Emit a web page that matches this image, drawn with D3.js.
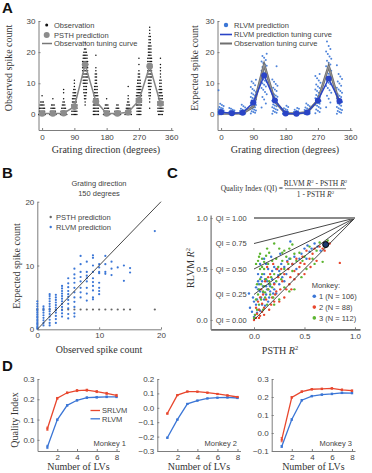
<!DOCTYPE html>
<html><head><meta charset="utf-8">
<script src="https://cdn.jsdelivr.net/npm/d3@7"></script>
<style>
body{margin:0;background:#fff;}
svg{display:block;}
</style></head><body>
<svg id="fig" width="372" height="473"></svg>
<script>
// ---------------- DATA ----------------
const directions = [0,30,60,90,120,150,180,210,240,270,300,330];
const dirTicks = [0,90,180,270,360];
const countTicksA = [0,10,20,30];
const psthMean = [0.3,0.3,0.4,2.5,16.0,4.2,0.3,0.3,0.7,4.5,15.5,3.5];
const obsTuning = [0.3,0.3,0.4,2.5,16.0,4.2,0.3,0.3,0.7,4.5,15.5,3.5];
const rlvmMean = [0.7,0.4,0.5,3.8,12.5,4.5,0.3,0.2,0.6,4.5,11.5,4.3];
// observed trials: [spike count, number of trials]
const observedTrials = [
 [[0,6],[1,5],[2,5],[3,4],[4,3],[6,1]],
 [[0,6],[1,5],[2,4],[3,3],[5,1]],
 [[0,6],[1,5],[2,4],[3,3],[4,2],[5,1],[7,1],[8,1]],
 [[0,5],[1,5],[2,5],[3,5],[4,4],[5,4],[6,3],[7,3],[8,2],[9,1],[10,1],[11,1]],
 [[3,1],[4,1],[5,2],[6,2],[7,3],[8,3],[9,3],[10,4],[11,4],[12,5],[13,5],[14,5],[15,5],[16,5],[17,5],[18,4],[19,4],[20,3],[21,2],[23,1]],
 [[0,5],[1,5],[2,5],[3,5],[4,5],[5,4],[6,4],[7,3],[8,3],[9,3],[10,2],[11,2],[12,2],[13,2],[14,1],[15,1],[19,1]],
 [[0,6],[1,5],[2,4],[3,3],[5,1]],
 [[0,6],[1,5],[2,3],[3,2]],
 [[0,6],[1,5],[2,4],[3,3],[4,2],[5,1],[6,1],[9,1]],
 [[0,4],[1,4],[2,4],[3,5],[4,5],[5,5],[6,5],[7,4],[8,4],[9,4],[10,3],[11,3],[12,2],[13,2],[14,1],[16,1],[18,1]],
 [[2,1],[4,1],[5,1],[6,2],[7,2],[8,2],[9,3],[10,3],[11,3],[12,4],[13,4],[14,4],[15,4],[16,4],[17,4],[18,4],[19,3],[20,3],[21,3],[22,3],[23,2],[24,2],[25,2],[26,1],[27,1],[28,1]],
 [[0,4],[1,5],[2,5],[3,5],[4,5],[5,4],[6,4],[7,3],[8,3],[9,2],[10,2],[11,2],[12,1],[13,1],[14,1],[15,1],[16,1],[18,1]]
];
// RLVM predicted expected counts per trial
const rlvmTrials = [
 [0.1,0.2,0.3,0.3,0.4,0.5,0.5,0.6,0.6,0.7,0.7,0.8,0.8,0.9,1.0,1.0,1.1,1.2,1.3,1.4,1.5,1.7,1.9,2.1,2.4,2.7,3.0,3.4,7.8],
 [0.1,0.1,0.2,0.2,0.3,0.3,0.3,0.4,0.4,0.5,0.5,0.6,0.6,0.7,0.8,0.9,1.0,1.1,1.3,1.5,1.8,2.1],
 [0.1,0.2,0.2,0.3,0.3,0.4,0.4,0.5,0.5,0.6,0.7,0.8,0.9,1.0,1.1,1.3,1.5,1.8,2.2,2.6,3.1],
 [0.3,0.5,0.8,1.0,1.3,1.5,1.8,2.0,2.3,2.5,2.8,3.0,3.2,3.5,3.7,4.0,4.2,4.5,4.8,5.0,5.3,5.6,6.0,6.4,6.8,7.2,7.7,8.2,8.8,9.4,10.0,10.6,11.1],
 [2.2,3.5,4.8,5.6,6.5,7.2,7.9,8.5,9.0,9.5,10.0,10.4,10.8,11.2,11.6,12.0,12.3,12.6,13.0,13.3,13.6,14.0,14.4,14.8,15.2,15.6,16.0,16.5,17.0,17.5,18.2,18.8,19.5],
 [0.2,0.5,0.8,1.1,1.4,1.7,2.0,2.3,2.6,2.9,3.2,3.5,3.8,4.1,4.4,4.7,5.0,5.3,5.7,6.1,6.5,7.0,7.5,8.0,8.6,9.2,9.8,10.5,11.2,15.5],
 [0.1,0.1,0.2,0.2,0.3,0.3,0.4,0.4,0.5,0.6,0.7,0.8,0.9,1.0,1.2,1.4,1.7,2.0,2.4,2.8],
 [0.05,0.1,0.1,0.15,0.2,0.2,0.25,0.3,0.3,0.4,0.45,0.5,0.6,0.7,0.8,1.0,1.2,1.5,1.8,2.1],
 [0.1,0.2,0.2,0.3,0.3,0.4,0.5,0.5,0.6,0.7,0.8,0.9,1.0,1.2,1.4,1.6,1.9,2.2,2.6,3.0,3.5],
 [0.4,0.8,1.2,1.6,2.0,2.4,2.8,3.1,3.4,3.7,4.0,4.3,4.6,4.9,5.2,5.5,5.8,6.2,6.6,7.0,7.5,8.0,8.5,9.0,9.6,10.2,10.9,11.6,12.3,13.0],
 [2.3,3.8,5.0,6.0,7.0,7.8,8.5,9.1,9.7,10.2,10.7,11.1,11.5,11.9,12.3,12.7,13.1,13.5,14.0,14.5,15.0,15.5,16.0,16.6,17.2,17.9,18.6,19.4,20.2,21.0,22.0,23.4],
 [0.2,0.5,0.8,1.1,1.4,1.7,2.0,2.4,2.8,3.2,3.6,4.0,4.4,4.8,5.2,5.6,6.0,6.5,7.0,7.5,8.0,8.6,9.2,9.9,10.6,11.4,12.2,13.0,15.8]
];
// Panel B (150 degrees)
const countTicksB = [0,10,20];
const psthObsX = [0,1,2,3,4,5,6,7,8,9,10,11,12,13,14,15,19];
const psthPred150 = 3.1;
const rlvm150 = [
 [0,[0.1,0.3,0.5,0.8,1.0,1.3,1.5,1.8,2.0,2.3,2.6,2.9,3.2,3.6,4.0,4.4]],
 [1,[0.6,1.0,1.4,1.8,2.2,2.6,3.0,3.3,3.6]],
 [2,[0.6,1.0,1.5,2.0,2.4,2.8,3.2,3.6,4.0,4.4,4.8,5.2,5.5]],
 [3,[1.0,1.6,2.1,2.6,3.0,3.4,3.8,4.2,4.6,5.0,5.4]],
 [4,[2.0,2.5,3.0,3.5,4.0,4.4,4.8,5.2,5.6,6.0,6.4,6.8]],
 [5,[1.7,2.4,3.3,4.0,4.6,5.1,5.5,6.0,6.6,7.2,8.0]],
 [6,[2.0,2.5,3.5,4.3,5.0,5.8,6.5,7.3,8.0,8.6,9.5]],
 [7,[5.0,5.8,6.5,7.5,8.2,9.0,10.2,11.5]],
 [8,[4.5,5.6,6.5,7.5,8.0,8.4,9.0,10.6]],
 [9,[4.7,5.0,6.1,6.8,7.4,8.0,9.0,10.0,11.2,11.6]],
 [10,[5.5,6.0,6.5,7.3,8.8,9.0,9.7,10.2]],
 [11,[8.7,9.0,10.2,11.5]],
 [12,[8.5,9.5,10.6]],
 [13,[9.7]],
 [14,[7.6,10.0]],
 [15,[8.9,9.6]],
 [19,[15.4]]
];
// Panel C: [PSTH R2, RLVM R2]
const qiLevels = [0,0.25,0.5,0.75,1.0];
const r2Ticks = [0,0.5,1.0];
const monkey1 = [[-0.05,0.26],[-0.04,0.12],[-0.02,0.08],[0.0,0.03],[0.01,0.05],[0.02,0.15],[0.03,0.2],[0.04,0.3],[0.05,0.35],[0.06,0.28],[0.07,0.42],[0.08,0.38],[0.1,0.45],[0.12,0.33],[0.13,0.3],[0.14,0.5],[0.15,0.35],[0.18,0.4],[0.2,0.36],[0.22,0.5],[0.25,0.48],[0.27,0.55],[0.3,0.52],[0.33,0.58],[0.35,0.6],[0.36,0.77],[0.4,0.62],[0.45,0.6],[0.5,0.7],[0.53,0.73],[0.55,0.67],[0.6,0.75],[0.63,0.72],[0.66,0.68],[0.05,0.1],[0.08,0.15],[0.1,0.2],[0.12,0.25],[0.15,0.22],[0.16,0.28],[0.2,0.3],[0.22,0.26],[0.25,0.35],[0.28,0.42],[0.3,0.38],[0.02,0.32],[0.04,0.45],[0.06,0.55],[0.1,0.6],[0.12,0.55],[0.17,0.62],[0.2,0.52],[0.24,0.44],[0.26,0.65],[0.32,0.45],[0.38,0.55],[0.42,0.5],[0.47,0.65],[0.52,0.6],[0.57,0.7],[0.07,0.22],[0.09,0.33],[0.11,0.4],[0.14,0.18],[0.18,0.48],[0.03,0.07],[0.06,0.09],[0.0,0.18],[-0.01,0.22],[0.09,0.27],[0.13,0.38],[0.16,0.33],[0.11,0.14],[0.19,0.26],[0.04,0.38]];
const monkey2 = [[0.0,0.0],[0.02,0.02],[0.03,0.06],[0.05,0.1],[0.06,0.04],[0.08,0.16],[0.1,0.12],[0.12,0.2],[0.14,0.3],[0.15,0.1],[0.18,0.22],[0.2,0.35],[0.22,0.28],[0.24,0.42],[0.25,0.18],[0.28,0.38],[0.3,0.45],[0.32,0.3],[0.34,0.5],[0.36,0.42],[0.38,0.55],[0.4,0.48],[0.42,0.6],[0.45,0.52],[0.48,0.62],[0.5,0.55],[0.52,0.68],[0.55,0.6],[0.58,0.65],[0.6,0.7],[0.62,0.58],[0.65,0.72],[0.68,0.7],[0.72,0.76],[0.75,0.75],[0.85,0.56],[0.05,0.02],[0.07,0.3],[0.09,0.25],[0.11,0.38],[0.13,0.52],[0.16,0.45],[0.19,0.55],[0.21,0.25],[0.26,0.3],[0.3,0.22],[0.35,0.35],[0.4,0.4],[0.44,0.45],[0.02,0.12],[0.04,0.18],[0.06,0.22],[0.1,0.05],[0.17,0.15],[0.23,0.5],[0.27,0.5],[0.33,0.57],[0.5,0.45],[0.7,0.68],[0.08,0.08],[0.14,0.42],[0.2,0.18],[0.37,0.3],[0.46,0.56],[0.56,0.52]];
const monkey3 = [[0.04,0.58],[0.05,0.62],[0.06,0.65],[0.08,0.6],[0.1,0.57],[0.12,0.63],[0.13,0.7],[0.15,0.66],[0.2,0.75],[0.25,0.7],[0.28,0.66],[0.3,0.68],[0.35,0.7],[0.38,0.74],[0.02,0.55],[0.0,0.02],[0.01,0.05],[0.03,0.1],[0.02,0.2],[0.04,0.25],[0.05,0.3],[0.06,0.4],[0.07,0.35],[0.08,0.45],[0.09,0.28],[0.1,0.33],[0.11,0.22],[0.12,0.4],[0.13,0.15],[0.14,0.3],[0.15,0.38],[0.16,0.25],[0.17,0.42],[0.18,0.32],[0.2,0.45],[0.22,0.38],[0.24,0.52],[0.26,0.45],[0.28,0.58],[0.3,0.5],[0.32,0.62],[0.34,0.55],[0.36,0.6],[0.38,0.48],[0.4,0.65],[0.42,0.58],[0.45,0.66],[0.48,0.58],[0.5,0.62],[0.52,0.5],[0.55,0.72],[0.58,0.6],[0.6,0.55],[0.62,0.68],[0.65,0.76],[0.68,0.57],[0.7,0.72],[0.73,0.78],[0.25,0.2],[0.3,0.32],[0.2,0.15],[0.08,0.52],[0.1,0.5],[0.14,0.55],[0.05,0.15],[0.07,0.2],[0.09,0.1],[0.18,0.58],[0.22,0.6],[0.4,0.3],[0.35,0.28],[0.47,0.42],[0.03,0.35],[0.11,0.27],[0.16,0.35],[0.19,0.22],[0.06,0.5],[0.27,0.4]];
const highlighted = [0.71,0.74];
const monkeyLabels = ["1 (N = 106)","2 (N = 88)","3 (N = 112)"];
// Panel D
const lvCounts = [1,2,3,4,5,6,7,8];
const lvTicks = [2,4,6,8];
const d1Srlvm = [0.055,0.205,0.232,0.243,0.245,0.238,0.229,0.219];
const d1Rlvm  = [-0.035,0.099,0.170,0.195,0.208,0.210,0.212,0.212];
const d2Srlvm = [-0.040,0.088,0.113,0.112,0.105,0.096,0.086,0.075];
const d2Rlvm  = [-0.208,-0.082,0.027,0.050,0.065,0.070,0.072,0.068];
const d3Srlvm = [-0.037,0.198,0.230,0.243,0.245,0.248,0.240,0.235];
const d3Rlvm  = [-0.075,0.075,0.182,0.205,0.213,0.217,0.223,0.222];
const d1SrlvmErr = [0.008,0.004,0.004,0.005,0.005,0.005,0.005,0.005];
const d1RlvmErr  = [0.008,0.004,0.004,0.004,0.004,0.004,0.004,0.004];
const d2SrlvmErr = [0.004,0.003,0.003,0.003,0.003,0.003,0.003,0.003];
const d2RlvmErr  = [0.004,0.003,0.003,0.003,0.003,0.003,0.003,0.003];
const d3SrlvmErr = [0.012,0.004,0.004,0.004,0.004,0.004,0.004,0.004];
const d3RlvmErr  = [0.005,0.004,0.004,0.004,0.004,0.004,0.004,0.004];
const d1Ticks = [0.0,0.1,0.2,0.3];
const d2Ticks = [-0.3,-0.2,-0.1,0.0,0.1,0.2];
const d3Ticks = [-0.1,0.0,0.1,0.2,0.3];

// ---------------- DRAWING ----------------
const svg = d3.select('#fig');
const SANS = '"Liberation Sans", Arial, sans-serif';
const SERIF = '"Liberation Serif", "Times New Roman", serif';
const AXC = '#7d7d7d', TXT = '#444';
const BLUE = '#3b76d6', DBLUE = '#2a44c6', RED = '#e8472e', GREEN = '#5db531', GRAY = '#7a7a7a';

function axis(gen, tx, ty, fs){
  const g = svg.append('g').attr('transform',`translate(${tx},${ty})`).call(gen);
  g.attr('font-family', SANS).attr('font-size', fs||8);
  g.select('.domain').attr('stroke', AXC).attr('stroke-width', 1);
  g.selectAll('.tick line').attr('stroke', AXC);
  g.selectAll('.tick text').attr('fill', TXT);
  return g;
}
function text(x,y,t,opt){
  opt = opt||{};
  return svg.append('text').attr('x',x).attr('y',y).text(t)
    .attr('font-family', opt.serif?SERIF:SANS).attr('font-size', opt.fs||7.5)
    .attr('fill', opt.fill||TXT).attr('text-anchor', opt.anchor||'start')
    .attr('font-weight', opt.bold?'bold':'normal');
}
function vlabel(x,y,t,fs){
  return svg.append('text').attr('transform',`translate(${x},${y}) rotate(-90)`)
    .attr('text-anchor','middle').attr('dy','0.35em').attr('font-family',SERIF)
    .attr('font-size',fs||10).attr('fill','#333').text(t);
}

// Panel letters
text(2,13,'A',{fs:15,bold:true,fill:'#111'});
text(2,178,'B',{fs:15,bold:true,fill:'#111'});
text(167,178,'C',{fs:15,bold:true,fill:'#111'});
text(2,371,'D',{fs:15,bold:true,fill:'#111'});

// ---- Panel A left ----
const xAL = d3.scaleLinear().domain([-10,365]).range([38.5,173]);
const yA = d3.scaleLinear().domain([-5,30]).range([130,21]);
axis(d3.axisBottom(xAL).tickValues(dirTicks).tickSize(-2).tickSizeOuter(0).tickPadding(4), 0, 130);
axis(d3.axisLeft(yA).tickValues(countTicksA).tickSize(-2).tickSizeOuter(0).tickPadding(3), 38.5, 0);
const obsG = svg.append('g');
directions.forEach((dir,di)=>{
  observedTrials[di].forEach(([v,n])=>{
    for(let k=0;k<n;k++){
      obsG.append('circle').attr('cx', xAL(dir) + (k-(n-1)/2)*1.25).attr('cy', yA(v)).attr('r',0.75).attr('fill','#111');
    }
  });
});
const lineAL = d3.line().x((d,i)=>xAL(directions[i])).y(d=>yA(d));
svg.append('path').attr('d', lineAL(psthMean)).attr('fill','none').attr('stroke','#858585').attr('stroke-width',1.5);
svg.selectAll('.psthpt').data(psthMean).join('circle').attr('cx',(d,i)=>xAL(directions[i])).attr('cy',d=>yA(d)).attr('r',3.3).attr('fill','#8c8c8c');
// legend
svg.append('circle').attr('cx',46.7).attr('cy',25).attr('r',1.5).attr('fill','#111');
text(54,27.7,'Observation');
svg.append('circle').attr('cx',46.7).attr('cy',35).attr('r',3).attr('fill','#8c8c8c');
text(54,37.7,'PSTH prediction');
svg.append('line').attr('x1',42).attr('x2',52).attr('y1',43.5).attr('y2',43.5).attr('stroke','#777').attr('stroke-width',1.5);
text(54,46.2,'Observation tuning curve');
vlabel(8.5,68,'Observed spike count');
text(106,152.5,'Grating direction (degrees)',{serif:true,fs:10,anchor:'middle',fill:'#333'});

// ---- Panel A right ----
const xAR = d3.scaleLinear().domain([-10,365]).range([217.5,352]);
axis(d3.axisBottom(xAR).tickValues(dirTicks).tickSize(-2).tickSizeOuter(0).tickPadding(4), 0, 130);
axis(d3.axisLeft(yA).tickValues(countTicksA).tickSize(-2).tickSizeOuter(0).tickPadding(3), 217.5, 0);
const rG = svg.append('g');
directions.forEach((dir,di)=>{
  rlvmTrials[di].forEach((v,i)=>{
    const off = (((i*5)%7)-3)*0.85;
    rG.append('circle').attr('cx', xAR(dir)+off).attr('cy', yA(v)).attr('r',1.0).attr('fill',BLUE).attr('opacity',0.9);
  });
});
const lineAR = d3.line().x((d,i)=>xAR(directions[i])).y(d=>yA(d));
svg.append('path').attr('d', lineAR(obsTuning)).attr('fill','none').attr('stroke','#6f6f6f').attr('stroke-width',2.6);
svg.append('path').attr('d', lineAR(obsTuning)).attr('fill','none').attr('stroke','#a0a0a0').attr('stroke-width',0.8);
svg.append('path').attr('d', lineAR(rlvmMean)).attr('fill','none').attr('stroke',DBLUE).attr('stroke-width',1.5);
svg.selectAll('.rlvmpt').data(rlvmMean).join('circle').attr('cx',(d,i)=>xAR(directions[i])).attr('cy',d=>yA(d)).attr('r',3).attr('fill',DBLUE);
svg.append('circle').attr('cx',226).attr('cy',25).attr('r',2.2).attr('fill',BLUE);
text(234,27.7,'RLVM prediction');
svg.append('line').attr('x1',220).attr('x2',232).attr('y1',34.5).attr('y2',34.5).attr('stroke',DBLUE).attr('stroke-width',1.6);
text(234,37.2,'RLVM prediction tuning curve');
svg.append('line').attr('x1',220).attr('x2',232).attr('y1',43.5).attr('y2',43.5).attr('stroke','#6f6f6f').attr('stroke-width',2);
text(234,46.2,'Observation tuning curve');
vlabel(194.5,68,'Expected spike count');
text(285,152.5,'Grating direction (degrees)',{serif:true,fs:10,anchor:'middle',fill:'#333'});

// ---- Panel B ----
const xB = d3.scaleLinear().domain([0,20]).range([37.3,161]);
const yB = d3.scaleLinear().domain([0,20]).range([329.3,201.7]);
axis(d3.axisBottom(xB).tickValues(countTicksB).tickSize(-2).tickSizeOuter(0).tickPadding(3.5), 0, 329.3);
axis(d3.axisLeft(yB).tickValues(countTicksB).tickSize(-2).tickSizeOuter(0).tickPadding(3), 37.3, 0);
svg.selectAll('.bg').data(psthObsX).join('circle').attr('cx',d=>xB(d)).attr('cy',yB(psthPred150)).attr('r',1.1).attr('fill','#666');
rlvm150.forEach(([x,ys])=>{
  ys.forEach(y=>svg.append('circle').attr('cx',xB(x)).attr('cy',yB(y)).attr('r',1.1).attr('fill',BLUE));
});
svg.append('line').attr('x1',xB(0)).attr('y1',yB(0)).attr('x2',xB(20)).attr('y2',yB(20)).attr('stroke','#333').attr('stroke-width',0.9);
text(99,186,'Grating direction',{anchor:'middle'});
text(99,195.5,'150 degrees',{anchor:'middle'});
svg.append('circle').attr('cx',50.7).attr('cy',217).attr('r',1.2).attr('fill','#666');
text(56,219.7,'PSTH prediction');
svg.append('circle').attr('cx',50.7).attr('cy',227).attr('r',1.2).attr('fill',BLUE);
text(56,229.7,'RLVM prediction');
vlabel(16,266,'Expected spike count');
text(99,352.5,'Observed spike count',{serif:true,fs:10,anchor:'middle',fill:'#333'});

// ---- Panel C ----
const xC = d3.scaleLinear().domain([-0.43,1.05]).range([210.6,360]);
const yC = d3.scaleLinear().domain([-0.092,1.03]).range([329.3,215]);
const gxC = axis(d3.axisBottom(xC).tickValues(r2Ticks).tickFormat(d3.format('.1f')).tickSize(-2).tickSizeOuter(0).tickPadding(4), 0, 329.3);
gxC.select('.domain').attr('stroke','#6a6a6a').attr('stroke-width',1.8);
const gyC = axis(d3.axisLeft(yC).tickValues(r2Ticks).tickFormat(d3.format('.1f')).tickSize(-2).tickSizeOuter(0).tickPadding(3), 210.6, 0);
gyC.select('.domain').attr('stroke-width',1.3);
const cG = svg.append('g');
[[monkey1,BLUE],[monkey2,RED],[monkey3,GREEN]].forEach(([pts,col])=>{
  cG.selectAll(null).data(pts).join('circle').attr('cx',d=>xC(d[0])).attr('cy',d=>yC(d[1])).attr('r',1.2).attr('fill',col);
});
qiLevels.forEach(q=>{
  svg.append('line').attr('x1',xC(0)).attr('y1',yC(q)).attr('x2',xC(1)).attr('y2',yC(1))
    .attr('stroke', q===1?'#8a8a8a':'#333').attr('stroke-width', q===1?2:0.9);
  text(246.7, yC(q)+2.7, 'QI = '+q.toFixed(2), {anchor:'end'});
});
svg.append('circle').attr('cx',xC(highlighted[0])).attr('cy',yC(highlighted[1])).attr('r',3).attr('fill','#1d3b6e').attr('stroke','#000').attr('stroke-width',1);
text(311.7,287.5,'Monkey:');
[BLUE,RED,GREEN].forEach((c,i)=>{
  const y = 296.3 + i*10.8;
  svg.append('circle').attr('cx',314.3).attr('cy',y).attr('r',1.8).attr('fill',c);
  text(319,y+2.7,monkeyLabels[i]);
});
// y label RLVM R^2
const yl = svg.append('text').attr('transform','translate(190,268) rotate(-90)').attr('text-anchor','middle').attr('dy','0.35em')
  .attr('font-family',SERIF).attr('font-size',10).attr('fill','#333');
yl.append('tspan').text('RLVM ');
yl.append('tspan').attr('font-style','italic').text('R');
yl.append('tspan').attr('font-size',6.5).attr('dy',-4).text('2');
const xl = svg.append('text').attr('x',280).attr('y',354).attr('text-anchor','middle')
  .attr('font-family',SERIF).attr('font-size',10).attr('fill','#333');
xl.append('tspan').text('PSTH ');
xl.append('tspan').attr('font-style','italic').text('R');
xl.append('tspan').attr('font-size',6.5).attr('dy',-4).text('2');
// formula
text(283,191,'Quality Index (QI) =',{serif:true,fs:7.5,anchor:'end',fill:'#333'});
function r2text(x,y,parts){
  const t = svg.append('text').attr('x',x).attr('y',y).attr('text-anchor','middle').attr('font-family',SERIF).attr('font-size',7.5).attr('fill','#333');
  parts.forEach(p=>{
    const s = t.append('tspan').text(p[0]);
    if(p[1]==='i') s.attr('font-style','italic');
    if(p[1]==='sup') s.attr('font-size',5).attr('dy',-3);
    if(p[1]==='down') s.attr('dy',3);
  });
}
r2text(315.5,186,[['RLVM '],['R','i'],['2','sup'],[' - PSTH ','down'],['R','i'],['2','sup']]);
svg.append('line').attr('x1',285).attr('x2',346).attr('y1',188.7).attr('y2',188.7).attr('stroke','#333').attr('stroke-width',0.6);
r2text(315.5,196.5,[['1 - PSTH '],['R','i'],['2','sup']]);

// ---- Panel D ----
function panelD(x0,x1,yDom,ticks,sr,rl,srE,rlE,label,labelX){
  const x = d3.scaleLinear().domain([0,8.3]).range([x0,x1]);
  const y = d3.scaleLinear().domain(yDom).range([451,379]);
  axis(d3.axisBottom(x).tickValues(lvTicks).tickSize(-2).tickSizeOuter(0).tickPadding(3), 0, 451);
  axis(d3.axisLeft(y).tickValues(ticks).tickFormat(d3.format('.1f')).tickSize(-2).tickSizeOuter(0).tickPadding(3), x0, 0);
  const ln = d3.line().x((d,i)=>x(lvCounts[i])).y(d=>y(d));
  [[rl,rlE,BLUE],[sr,srE,RED]].forEach(([vals,errs,col])=>{
    svg.append('path').attr('d',ln(vals)).attr('fill','none').attr('stroke',col).attr('stroke-width',1.3);
    vals.forEach((v,i)=>{
      const cx = x(lvCounts[i]);
      svg.append('line').attr('x1',cx).attr('x2',cx).attr('y1',y(v-errs[i])).attr('y2',y(v+errs[i])).attr('stroke',col).attr('stroke-width',0.9);
      svg.append('line').attr('x1',cx-1.2).attr('x2',cx+1.2).attr('y1',y(v-errs[i])).attr('y2',y(v-errs[i])).attr('stroke',col).attr('stroke-width',0.7);
      svg.append('line').attr('x1',cx-1.2).attr('x2',cx+1.2).attr('y1',y(v+errs[i])).attr('y2',y(v+errs[i])).attr('stroke',col).attr('stroke-width',0.7);
      svg.append('rect').attr('x',cx-1.1).attr('y',y(v)-1.1).attr('width',2.2).attr('height',2.2).attr('fill',col);
    });
  });
  text(labelX,445.5,label,{anchor:'end'});
  text((x0+x1)/2,470,'Number of LVs',{serif:true,fs:10,anchor:'middle',fill:'#333'});
}
panelD(37.5,119.5,[-0.055,0.3],d1Ticks,d1Srlvm,d1Rlvm,d1SrlvmErr,d1RlvmErr,'Monkey 1',126);
panelD(157.3,240.5,[-0.3,0.2],d2Ticks,d2Srlvm,d2Rlvm,d2SrlvmErr,d2RlvmErr,'Monkey 2',237);
panelD(271.7,355,[-0.1,0.3],d3Ticks,d3Srlvm,d3Rlvm,d3SrlvmErr,d3RlvmErr,'Monkey 3',352);
svg.append('line').attr('x1',90.5).attr('x2',100).attr('y1',410.5).attr('y2',410.5).attr('stroke',RED).attr('stroke-width',1.3);
text(102,413,'SRLVM');
svg.append('line').attr('x1',90.5).attr('x2',100).attr('y1',418.8).attr('y2',418.8).attr('stroke',BLUE).attr('stroke-width',1.3);
text(102,421.5,'RLVM');
vlabel(14,420,'Quality Index');
</script>
</body></html>
